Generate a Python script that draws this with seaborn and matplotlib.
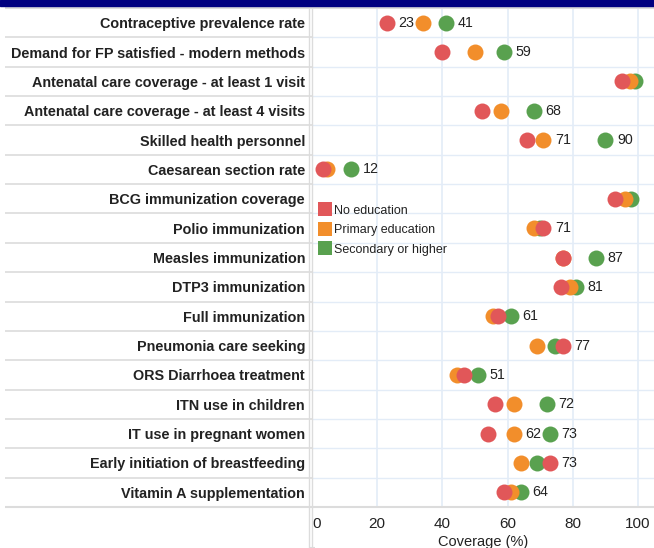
import matplotlib
matplotlib.use('Agg')
import matplotlib.pyplot as plt
from matplotlib.lines import Line2D
from matplotlib.patches import Rectangle
import seaborn as sns
import pandas as pd

indicators = [
    'Contraceptive prevalence rate',
    'Demand for FP satisfied - modern methods',
    'Antenatal care coverage - at least 1 visit',
    'Antenatal care coverage - at least 4 visits',
    'Skilled health personnel',
    'Caesarean section rate',
    'BCG immunization coverage',
    'Polio immunization',
    'Measles immunization',
    'DTP3 immunization',
    'Full immunization',
    'Pneumonia care seeking',
    'ORS Diarrhoea treatment',
    'ITN use in children',
    'IT use in pregnant women',
    'Early initiation of breastfeeding',
    'Vitamin A supplementation',
]
no_education = [23, 40, 95, 52, 66, 3.4, 93, 71, 77, 76.5, 57, 77, 46.5, 56, 54, 73, 59]
primary_education = [34, 50, 97.5, 58, 71, 4.5, 96, 68, 77, 79, 55.5, 69, 44.5, 62, 62, 64, 61]
secondary_higher = [41, 59, 99, 68, 90, 12, 98, 70, 87, 81, 61, 74.5, 51, 72, 73, 69, 64]

# which points carry a value label
label_rows = {
    'No education': [0, 7, 11, 15],
    'Primary education': [4, 14],
    'Secondary or higher': [0, 1, 3, 4, 5, 8, 9, 10, 12, 13, 14, 16],
}

groups = ['No education', 'Primary education', 'Secondary or higher']
values = {'No education': no_education,
          'Primary education': primary_education,
          'Secondary or higher': secondary_higher}
colors = {'No education': '#E15759',
          'Primary education': '#F28E2B',
          'Secondary or higher': '#59A14F'}

plt.rcParams['font.family'] = ['Liberation Sans', 'DejaVu Sans']

W, H = 654, 548
fig = plt.figure(figsize=(W / 100, H / 100), dpi=100)
ax = fig.add_axes([312 / W, 41 / H, (W - 312) / W, 499 / H])

# green drawn first, red on top
for g in reversed(groups):
    df = pd.DataFrame({'indicator': indicators, 'value': values[g]})
    sns.stripplot(data=df, x='value', y='indicator', order=indicators,
                  color=colors[g], jitter=False, size=11.5, linewidth=0,
                  ax=ax, zorder=3)

for g in groups:
    for i in label_rows[g]:
        v = values[g][i]
        ax.annotate('{:.0f}'.format(v), (v, i), xytext=(8.3, 0),
                    textcoords='offset points', ha='left', va='center',
                    fontsize=10.3, color='#222222', zorder=4)

ax.set_xlim(0, (W - 312) / 3.26)
ax.set_ylim(len(indicators) - 0.5, -0.5)
ax.set_xticks([0, 20, 40, 60, 80, 100])
ax.set_xticklabels(['0', '20', '40', '60', '80', '100'])
ax.get_xticklabels()[0].set_ha('left')
ax.tick_params(axis='x', length=0, labelsize=11, pad=7, labelcolor='#222222')
ax.tick_params(axis='y', length=0, labelsize=10.4, pad=5, labelcolor='#222222')
for lab in ax.get_yticklabels():
    lab.set_fontweight('bold')
ax.set_xlabel('Coverage (%)', fontsize=10.5, color='#222222', labelpad=3)
ax.set_ylabel('')
for s in ax.spines.values():
    s.set_visible(False)

grid_c = '#e3ecf7'
line_c = '#dcdcdc'
bounds = [k - 0.5 for k in range(len(indicators) + 1)]
ytr = ax.get_yaxis_transform()
xtr = ax.get_xaxis_transform()
left = (4.5 - 312) / (W - 312)
bottom = (506 - 547) / 499

ax.hlines(bounds[1:-1], 0, 1, transform=ytr, colors=grid_c, lw=1, zorder=1)
ax.vlines([20, 40, 60, 80, 100], 0, 1, transform=xtr, colors=grid_c, lw=1.2, zorder=1)
ax.hlines(bounds[1:-1], left, 0, transform=ytr, colors=line_c, lw=1.2, clip_on=False)
ax.hlines([bounds[0], bounds[-1]], left, 1, transform=ytr, colors=line_c, lw=1.5, clip_on=False)
ax.hlines([bottom], left, 1, transform=xtr, colors=line_c, lw=1.5, clip_on=False)
ax.vlines([left, 0.002], bottom, 1, transform=xtr, colors=line_c, lw=1, clip_on=False)

handles = [Line2D([], [], marker='s', linestyle='', markersize=10,
                  markerfacecolor=colors[g], markeredgewidth=0) for g in groups]
ax.legend(handles, groups, loc='upper left', bbox_to_anchor=(0.0, 0.621),
          frameon=False, fontsize=9, handlelength=0.8, handletextpad=0.4,
          labelspacing=0.6, borderaxespad=0.2, labelcolor='#222222')

fig.patches.append(Rectangle((0, 1 - 6 / H), 1, 6 / H, transform=fig.transFigure,
                             color='#000080', zorder=10))

fig.savefig('out.png', dpi=100)
